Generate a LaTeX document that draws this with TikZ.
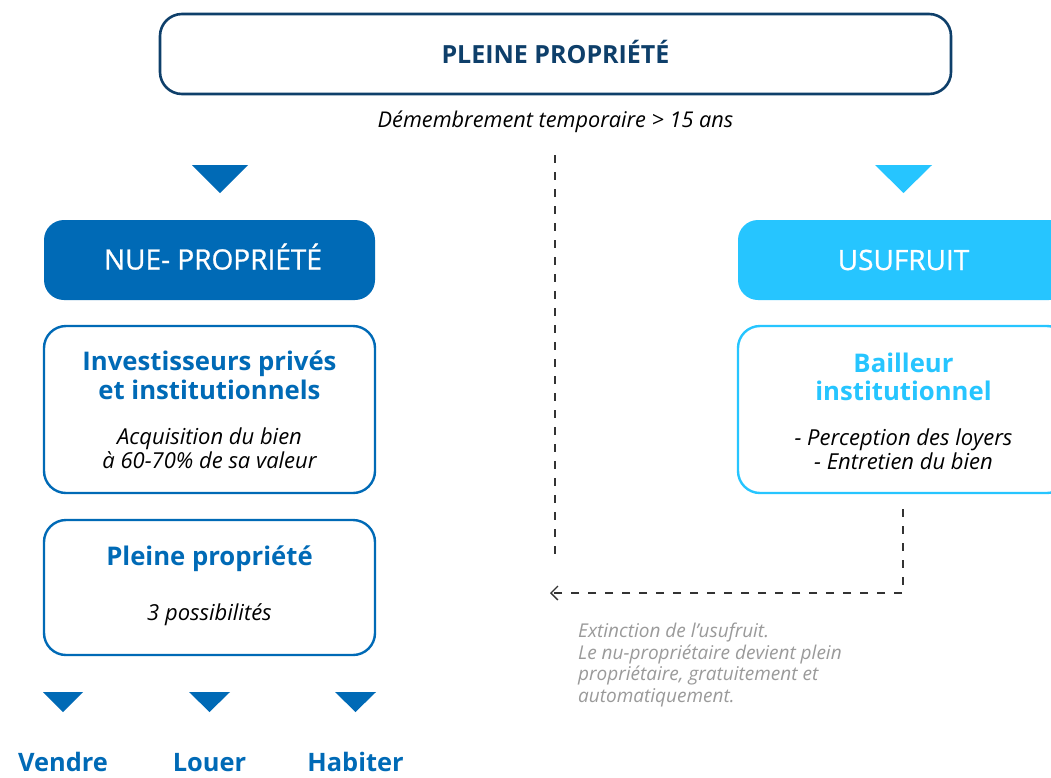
\documentclass[tikz,border=0pt]{standalone}
\usepackage{fontspec}
\setmainfont{Open Sans}
\newfontfamily\headfont[FakeBold=0.9]{Open Sans}
\usetikzlibrary{arrows.meta}
\definecolor{navy}{HTML}{0E3F6A}
\definecolor{mblue}{HTML}{006AB6}
\definecolor{cyanb}{HTML}{26C5FF}
\definecolor{greyt}{HTML}{9A9A9A}
\definecolor{dashc}{HTML}{333333}
\tikzset{
  card/.style={draw=#1, line width=2.4pt, rounded corners=22pt, fill=white, minimum width=331pt, minimum height=167pt, inner sep=0pt},
  headbox/.style={fill=#1, rounded corners=20pt, minimum width=331pt, minimum height=80pt, inner sep=0pt},
  headtxt/.style={anchor=base, text=white, font=\headfont\fontsize{28}{32}\selectfont, inner sep=0pt},
  tri/.style={fill=#1, draw=none},
  ctitle/.style={anchor=base, font=\bfseries\fontsize{25.7}{30}\selectfont, text=#1, inner sep=0pt},
  cbody/.style={anchor=base, font=\itshape\fontsize{22}{26}\selectfont, text=black, inner sep=0pt},
  choice/.style={anchor=base, font=\bfseries\fontsize{25.4}{30}\selectfont, text=mblue, inner sep=0pt},
  dashline/.style={draw=dashc, line width=1.3pt, dash pattern=on 8pt off 9pt},
}
\begin{document}
\begin{tikzpicture}[x=1pt,y=-1pt]
\clip (0,0) rectangle (1051,777);
\fill[white] (0,0) rectangle (1051,777);
% top box
\node[draw=navy, line width=2.6pt, rounded corners=22pt, minimum width=791pt, minimum height=80pt, inner sep=0pt] (top) at (555.5,54) {};
\node[anchor=base, font=\bfseries\fontsize{25}{30}\selectfont, text=navy, inner sep=0pt] (toptxt) at (555.5,63) {PLEINE PROPRIÉTÉ};
\node[anchor=base, font=\itshape\fontsize{21.7}{26}\selectfont, inner sep=0pt] (demem) at (555.5,127) {Démembrement temporaire > 15 ans};
% dashed vertical
\coordinate (vtop) at (555,155);
\coordinate (vbot) at (555,557);
\draw[dashline] (vtop) -- (vbot);
% triangles
\fill[tri=mblue] (192,165) -- (248,165) -- (220,193) -- cycle;
\fill[tri=cyanb] (875,165) -- (932,165) -- (903.5,193) -- cycle;
% head boxes
\node[headbox=mblue] (nue) at (209.5,260) {};
\node[headtxt] (nuetxt) at (213,269.5) {NUE- PROPRIÉTÉ};
\node[headbox=cyanb] (usu) at (903.5,260) {};
\node[headtxt] (usutxt) at (903.5,270) {USUFRUIT};
% left card 1
\node[card=mblue] (inv) at (209.5,409.5) {};
\node[ctitle=mblue] (invt1) at (209.5,370) {Investisseurs privés};
\node[ctitle=mblue] (invt2) at (209.5,399) {et institutionnels};
\node[cbody] (invb1) at (209.5,444) {Acquisition du bien};
\node[cbody] (invb2) at (209.5,468) {à 60-70\% de sa valeur};
% right card
\node[card=cyanb] (bail) at (903.5,409.5) {};
\node[ctitle=cyanb] (bailt1) at (903.5,372) {Bailleur};
\node[ctitle=cyanb] (bailt2) at (903.5,400) {institutionnel};
\node[cbody] (bailb1) at (903.5,445) {- Perception des loyers};
\node[cbody] (bailb2) at (903.5,469) {- Entretien du bien};
% left card 2
\node[card=mblue, minimum height=135pt] (pp) at (209.5,587.5) {};
\node[ctitle=mblue] (ppt) at (209.5,565) {Pleine propriété};
\node[cbody] (ppb) at (209.5,620) {3 possibilités};
% small triangles
\fill[tri=mblue] (43,692) -- (83,692) -- (63,712) -- cycle;
\fill[tri=mblue] (189,692) -- (230,692) -- (209.5,712) -- cycle;
\fill[tri=mblue] (335,692) -- (376,692) -- (355.5,712) -- cycle;
\node[choice] (vendre) at (63,771) {Vendre};
\node[choice] (louer) at (209.5,771) {Louer};
\node[choice] (habiter) at (355.5,771) {Habiter};
% dashed return path
\coordinate (rs) at (903,509);
\coordinate (rc) at (903,593);
\coordinate (re) at (550,593);
\draw[dashline, -{Straight Barb[length=7pt,width=14pt,line width=1.3pt]}] (rs) -- (rc) -- (re);
% grey note
\node[anchor=north west, align=left, text=greyt, font=\itshape\fontsize{19}{21.5}\selectfont, inner sep=0pt] (note) at (578,623) {Extinction de l’usufruit.\\Le nu-propriétaire devient plein\\propriétaire, gratuitement et\\automatiquement.};
\end{tikzpicture}
\end{document}
